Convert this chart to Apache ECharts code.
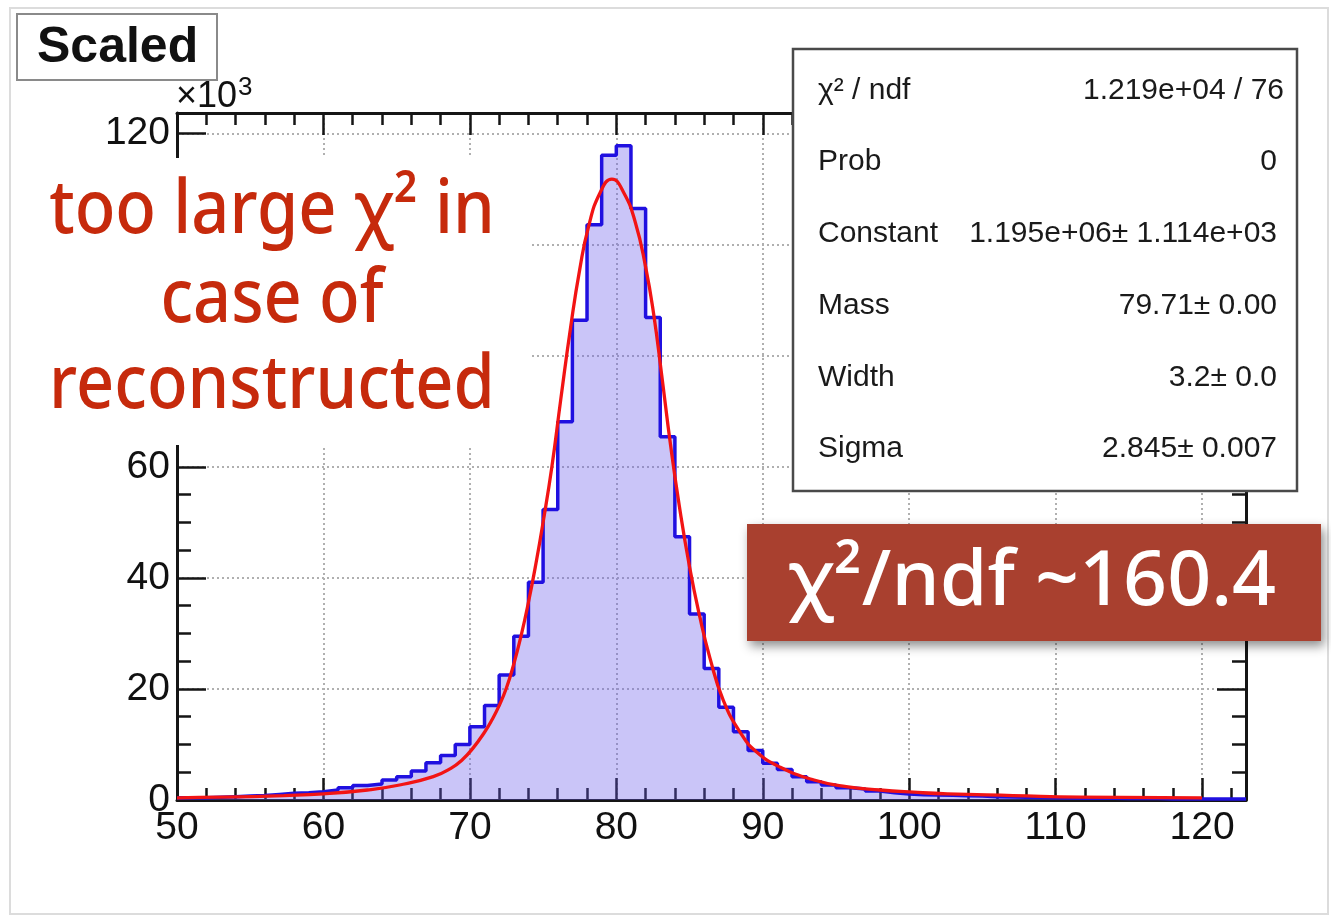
<!DOCTYPE html>
<html>
<head>
<meta charset="utf-8">
<script src="https://cdn.jsdelivr.net/npm/echarts@6/dist/echarts.min.js"></script>
<style>
html,body{margin:0;padding:0;background:#fff;}
#c{width:1331px;height:917px;}
</style>
</head>
<body>
<div id="c"></div>
<script>
// ---- data (counts in units of 10^3) ----
const binEdges = [50,51,52,53,54,55,56,57,58,59,60,61,62,63,64,65,66,67,68,69,70,71,72,73,74,75,76,77,78,79,80,81,82,83,84,85,86,87,88,89,90,91,92,93,94,95,96,97,98,99,100,101,102,103,104,105,106,107,108,109,110,111,112,113,114,115,116,117,118,119,120,121,122,123];
const binCounts = [
  0.4,0.4,0.5,0.6,0.7,0.8,1.0,1.2,1.3,1.5,
  1.8,2.2,2.6,2.9,3.6,4.2,5.2,6.7,8.0,10.0,
  13.2,17.0,22.5,29.5,39.2,52.3,68.1,86.4,103.6,116.1,
  117.8,106.5,86.9,65.4,47.4,33.5,23.7,16.7,12.3,8.9,
  6.6,5.5,4.2,3.3,2.7,2.2,2.0,1.6,1.3,1.1,
  0.95,0.9,0.85,0.75,0.7,0.6,0.55,0.5,0.45,0.4,
  0.35,0.3,0.3,0.3,0.25,0.25,0.25,0.2,0.2,0.2,
  0.2,0.2,0.2
];
const fitX = [50,53,57.3,60,63,65.2,67.5,68.7,69.5,70.2,71.0,71.5,72.0,72.5,73.0,73.5,74.0,74.5,75.0,75.6,76.2,76.9,77.5,78.1,78.9,79.7,80.5,81.3,82.0,82.55,83.1,83.7,84.3,85.0,85.7,86.4,87.3,88.5,89.6,91.2,93.5,95.7,98.0,100.3,102.6,107.1,111.7,120];
const fitY = [0.4,0.5,0.8,1.1,1.8,2.7,4.2,5.7,7.3,9.3,12.2,14.4,17.0,20.2,24.5,29.6,35.6,42.4,50.0,60.0,72.0,85.5,95.5,103.2,109.4,111.8,109.4,104.0,96.0,87.5,76.5,64.0,53.0,42.0,33.0,25.5,18.0,12.0,8.6,5.9,3.6,2.4,1.8,1.4,1.1,0.8,0.5,0.4];
const xTickLabels = [50,60,70,80,90,100,110,120];
const yTickLabels = [0,20,40,60,80,100,120];
const statsLabels = ['χ² / ndf','Prob','Constant','Mass','Width','Sigma'];
const statsValues = ['1.219e+04 / 76','0','1.195e+06± 1.114e+03','79.71± 0.00','3.2± 0.0','2.845± 0.007'];
const noteLines = ['too large χ² in','case of','reconstructed'];
const boxText = 'χ²/ndf ~160.4';

// ---- build series data ----
const histPoints = binEdges.map((e, i) => [e, binCounts[Math.min(i, binCounts.length - 1)]]);
const fitPoints = fitX.map((x, i) => [x, fitY[i]]);

const AX = '#151515';
const tickFont = 'Liberation Sans';
const xMin = 50, xMax = 123, yMin = 0, yMax = 123.7;

function xAxisDef(pos, interval, len, labels, split, line) {
  return {
    type: 'value', position: pos, min: xMin, max: xMax, interval: interval,
    axisLine: { show: line, onZero: false, lineStyle: { color: AX, width: 3 } },
    axisTick: { show: true, inside: true, length: len, lineStyle: { color: AX, width: 2.5 } },
    axisLabel: labels ? {
      show: true, margin: 9, fontSize: 39, color: '#111', fontFamily: tickFont,
      formatter: v => xTickLabels.indexOf(v) >= 0 ? String(v) : ''
    } : { show: false },
    splitLine: split ? { show: true, lineStyle: { color: '#b0b0b0', width: 2, type: [2, 3] } } : { show: false }
  };
}
function yAxisDef(pos, interval, len, labels, split, line) {
  return {
    type: 'value', position: pos, min: yMin, max: yMax, interval: interval,
    axisLine: { show: line, onZero: false, lineStyle: { color: AX, width: 3 } },
    axisTick: { show: true, inside: true, length: len, lineStyle: { color: AX, width: 2.5 } },
    axisLabel: labels ? {
      show: true, margin: 7, fontSize: 39, color: '#111', fontFamily: tickFont,
      formatter: v => yTickLabels.indexOf(v) >= 0 ? String(v) : ''
    } : { show: false },
    splitLine: split ? { show: true, lineStyle: { color: '#b0b0b0', width: 2, type: [2, 3] } } : { show: false }
  };
}

const statsEls = [];
statsLabels.forEach((t, i) => {
  const y = 90.5 + 71.7 * i;
  statsEls.push({ type: 'text', x: 818, y: y, z: 61,
    style: { text: t, font: '30px "Liberation Sans"', fill: '#1a1a1a', textAlign: 'left', textVerticalAlign: 'middle' } });
  statsEls.push({ type: 'text', x: i === 0 ? 1284 : 1277, y: y, z: 61,
    style: { text: statsValues[i], font: '30px "Liberation Sans"', fill: '#1a1a1a', textAlign: 'right', textVerticalAlign: 'middle' } });
});

const noteEls = noteLines.map((t, i) => ({
  type: 'text', x: 272, y: [212, 300.7, 387][i], z: 52, scaleX: 0.9, scaleY: 1,
  style: { text: t, font: '500 74px "Noto Sans"', fill: '#c62a0c', textAlign: 'center', textVerticalAlign: 'middle' }
}));

const option = {
  animation: false,
  backgroundColor: '#ffffff',
  grid: { left: 177, right: 85, top: 113, bottom: 117, containLabel: false },
  xAxis: [
    xAxisDef('bottom', 10, 22, true, true, true),
    xAxisDef('bottom', 2, 12, false, false, false),
    xAxisDef('top', 10, 22, false, false, true),
    xAxisDef('top', 2, 12, false, false, false)
  ],
  yAxis: [
    yAxisDef('left', 20, 29, true, true, true),
    yAxisDef('left', 5, 14, false, false, false),
    yAxisDef('right', 20, 29, false, false, true),
    yAxisDef('right', 5, 14, false, false, false)
  ],
  series: [
    {
      type: 'line', xAxisIndex: 0, yAxisIndex: 0, data: histPoints, step: 'end',
      symbol: 'none', silent: true, z: 3,
      lineStyle: { color: '#2010e0', width: 3.5 },
      areaStyle: { color: 'rgba(105,92,235,0.5)', origin: 'start' }
    },
    {
      type: 'line', xAxisIndex: 0, yAxisIndex: 0, data: fitPoints, smooth: 0.5,
      symbol: 'none', silent: true, z: 4,
      lineStyle: { color: '#f21414', width: 3.3 }
    }
  ],
  graphic: { elements: [
    { type: 'rect', z: 40, shape: { x: 10, y: 8, width: 1318, height: 906 },
      style: { fill: 'none', stroke: '#dcdcdc', lineWidth: 2 } },
    { type: 'rect', z: 50, shape: { x: 12, y: 158, width: 518, height: 287 },
      style: { fill: '#ffffff' } },
    ...noteEls,
    { type: 'rect', z: 55, shape: { x: 17, y: 14, width: 200, height: 66 },
      style: { fill: '#ffffff', stroke: '#8a8a8a', lineWidth: 2 } },
    { type: 'text', z: 56, x: 37, y: 48,
      style: { text: 'Scaled', font: 'bold 50px "Liberation Sans"', fill: '#111', textAlign: 'left', textVerticalAlign: 'middle' } },
    { type: 'text', z: 56, x: 176, y: 97,
      style: { text: '×10', font: '36px "Liberation Sans"', fill: '#111', textAlign: 'left', textVerticalAlign: 'middle' } },
    { type: 'text', z: 56, x: 238, y: 88,
      style: { text: '3', font: '26px "Liberation Sans"', fill: '#111', textAlign: 'left', textVerticalAlign: 'middle' } },
    { type: 'rect', z: 60, shape: { x: 793, y: 49, width: 504, height: 442 },
      style: { fill: '#ffffff', stroke: '#4a4a4a', lineWidth: 2.5 } },
    ...statsEls,
    { type: 'rect', z: 70, shape: { x: 747, y: 524, width: 574, height: 117 },
      style: { fill: '#a9402f', shadowBlur: 10, shadowColor: 'rgba(0,0,0,0.45)', shadowOffsetX: 3, shadowOffsetY: 5 } },
    { type: 'text', z: 71, x: 1032, y: 583,
      style: { text: boxText, font: '500 77px "Noto Sans"', fill: '#ffffff', textAlign: 'center', textVerticalAlign: 'middle' } }
  ] }
};

const chart = echarts.init(document.getElementById('c'), null, { renderer: 'canvas', width: 1331, height: 917 });
chart.setOption(option);
</script>
</body>
</html>
